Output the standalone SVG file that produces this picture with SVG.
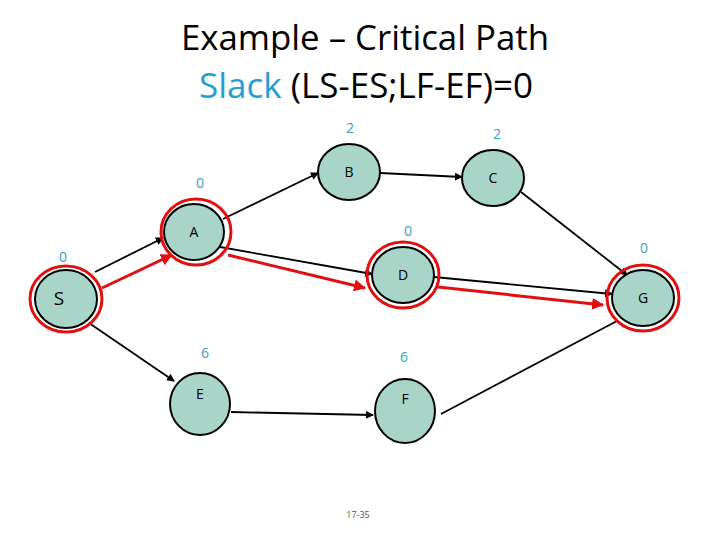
<svg xmlns="http://www.w3.org/2000/svg" width="720" height="540" viewBox="0 0 720 540">
<style>
.n{fill:#a8d5c8;stroke:#000;stroke-width:2}
.r{fill:none;stroke:#e01010;stroke-width:3}
.t{font-family:"Open Sans","Liberation Sans",sans-serif;font-size:14px;text-anchor:middle;fill:#000}
.v{font-family:"Open Sans","Liberation Sans",sans-serif;font-size:14px;text-anchor:middle;fill:#3aa0c0}
.e{stroke:#000;stroke-width:1.8;fill:none}
.c{stroke:#e01010;stroke-width:3;fill:none}
.h{font-family:"Open Sans","Liberation Sans",sans-serif;font-size:34px;text-anchor:middle;fill:#000}
</style>
<defs>
<marker id="ak" markerWidth="8" markerHeight="8" refX="7" refY="4" orient="auto" markerUnits="userSpaceOnUse"><path d="M0,0L8,4L0,8z" fill="#000"/></marker>
<marker id="ar" markerWidth="12" markerHeight="12" refX="11" refY="6" orient="auto" markerUnits="userSpaceOnUse"><path d="M0,0L12,6L0,12z" fill="#e01010"/></marker>
</defs>
<text class="h" x="365" y="50" textLength="368" lengthAdjust="spacingAndGlyphs">Example – Critical Path</text>
<text class="h" x="366" y="98" textLength="334" lengthAdjust="spacingAndGlyphs"><tspan fill="#1fa0d0">Slack</tspan> (LS-ES;LF-EF)=0</text>
<g id="connectors">
<line class="e" x1="95" y1="272" x2="163" y2="238" marker-end="url(#ak)"/>
<line class="c" x1="102" y1="288" x2="172" y2="255" marker-end="url(#ar)"/>
<line class="e" x1="223" y1="219" x2="318" y2="173" marker-end="url(#ak)"/>
<line class="e" x1="220" y1="247" x2="372" y2="274" marker-end="url(#ak)"/>
<line class="c" x1="228" y1="255" x2="365" y2="288" marker-end="url(#ar)"/>
<line class="e" x1="380" y1="173" x2="462" y2="177" marker-end="url(#ak)"/>
<line class="e" x1="521" y1="192" x2="627" y2="275" marker-end="url(#ak)"/>
<line class="e" x1="434" y1="277" x2="612" y2="294" marker-end="url(#ak)"/>
<line class="c" x1="438" y1="287" x2="603" y2="305" marker-end="url(#ar)"/>
<line class="e" x1="89" y1="323" x2="174" y2="381" marker-end="url(#ak)"/>
<line class="e" x1="231" y1="412" x2="373" y2="415" marker-end="url(#ak)"/>
<line class="e" x1="441" y1="414" x2="617" y2="321"/>
</g>
<g id="S"><ellipse class="r" cx="66" cy="299" rx="36" ry="33"/><ellipse class="n" cx="66" cy="299" rx="31" ry="29"/><text class="t" x="59" y="305" style="font-size:19px">S</text><text class="v" x="63" y="262">0</text></g>
<g id="A"><ellipse class="r" cx="196" cy="232" rx="35" ry="33"/><ellipse class="n" cx="194" cy="232" rx="30" ry="28"/><text class="t" x="194" y="237">A</text><text class="v" x="200" y="188">0</text></g>
<g id="B"><ellipse class="n" cx="349" cy="172" rx="31" ry="28"/><text class="t" x="349" y="177">B</text><text class="v" x="350" y="133">2</text></g>
<g id="C"><ellipse class="n" cx="493" cy="178" rx="31" ry="28"/><text class="t" x="493" y="183">C</text><text class="v" x="497" y="139">2</text></g>
<g id="D"><ellipse class="r" cx="403" cy="275" rx="36" ry="33"/><ellipse class="n" cx="403" cy="275" rx="31" ry="28"/><text class="t" x="403" y="280">D</text><text class="v" x="408" y="236">0</text></g>
<g id="G"><ellipse class="r" cx="643" cy="298" rx="36" ry="33"/><ellipse class="n" cx="643" cy="298" rx="31" ry="28"/><text class="t" x="643" y="303">G</text><text class="v" x="644" y="253">0</text></g>
<g id="E"><ellipse class="n" cx="200" cy="404" rx="30" ry="31"/><text class="t" x="200" y="399">E</text><text class="v" x="205" y="358">6</text></g>
<g id="F"><ellipse class="n" cx="405" cy="411" rx="30" ry="32"/><text class="t" x="405" y="404">F</text><text class="v" x="404" y="362">6</text></g>
<text x="358" y="518" font-family="'Open Sans','Liberation Sans',sans-serif" font-size="9" text-anchor="middle" fill="#555">17-35</text>
</svg>
